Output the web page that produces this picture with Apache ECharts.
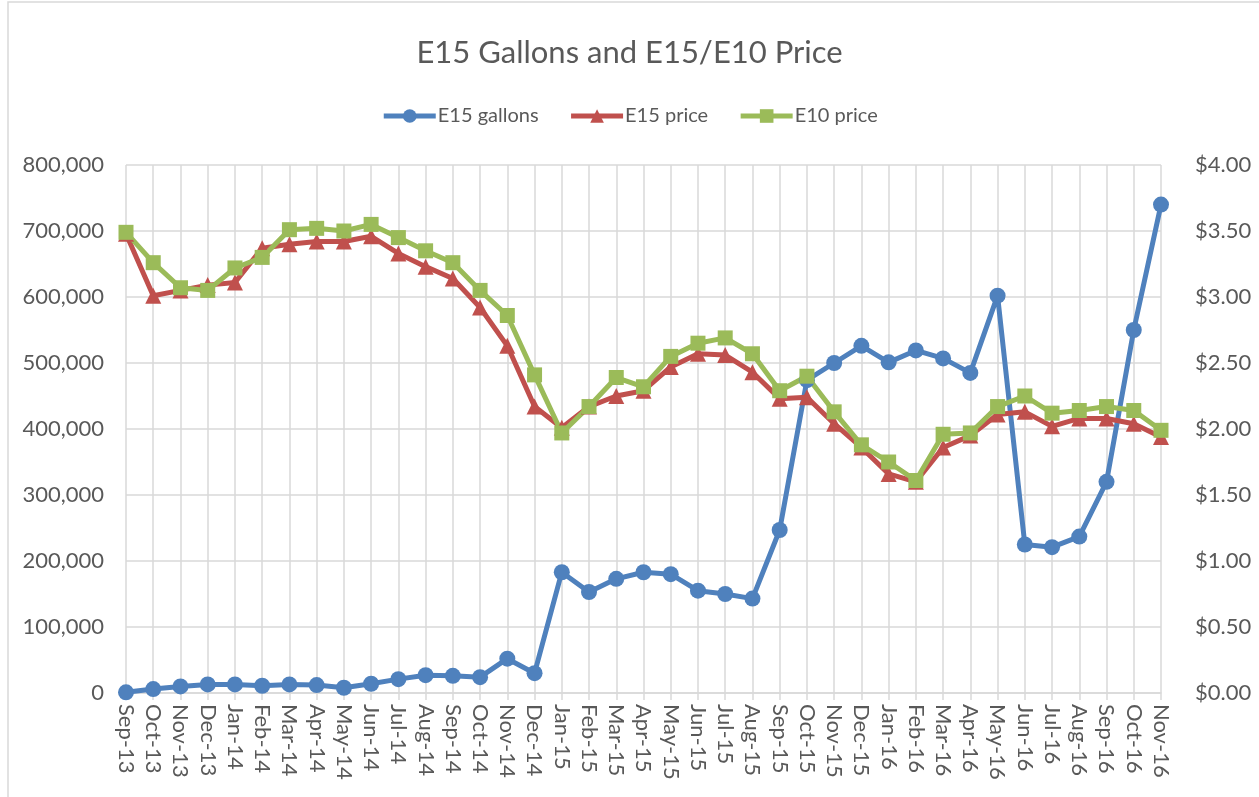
<!DOCTYPE html>
<html>
<head>
<meta charset="utf-8">
<script src="https://cdn.jsdelivr.net/npm/echarts@6/dist/echarts.min.js"></script>
<style>
html,body{margin:0;padding:0;background:#fff;}
#main{width:1259px;height:797px;}
</style>
</head>
<body>
<div id="main"></div>
<script>
var months = ['Sep-13','Oct-13','Nov-13','Dec-13','Jan-14','Feb-14','Mar-14','Apr-14','May-14','Jun-14','Jul-14','Aug-14',
    'Sep-14','Oct-14','Nov-14','Dec-14','Jan-15','Feb-15','Mar-15','Apr-15','May-15','Jun-15','Jul-15','Aug-15',
    'Sep-15','Oct-15','Nov-15','Dec-15','Jan-16','Feb-16','Mar-16','Apr-16','May-16','Jun-16','Jul-16','Aug-16',
    'Sep-16','Oct-16','Nov-16'];

var e15Gallons = [1000, 6000, 10000, 13000, 13000, 11000, 13000, 12000, 8000, 14000, 21000, 27000,
    26000, 24000, 52000, 30000, 183000, 153000, 173000, 183000, 180000, 155000, 150000, 143000,
    247000, 474000, 500000, 526000, 501000, 519000, 507000, 485000, 602000, 225000, 221000, 237000,
    320000, 550000, 740000];

var e15Price = [3.48, 3.01, 3.05, 3.09, 3.11, 3.37, 3.40, 3.42, 3.42, 3.46, 3.33, 3.23,
    3.14, 2.92, 2.63, 2.17, 2.01, 2.17, 2.25, 2.29, 2.47, 2.57, 2.56, 2.43,
    2.23, 2.24, 2.04, 1.86, 1.66, 1.60, 1.86, 1.95, 2.11, 2.13, 2.02, 2.08,
    2.08, 2.04, 1.94];

var e10Price = [3.49, 3.26, 3.07, 3.05, 3.22, 3.30, 3.51, 3.52, 3.50, 3.55, 3.45, 3.35,
    3.26, 3.05, 2.86, 2.41, 1.97, 2.17, 2.39, 2.32, 2.55, 2.65, 2.69, 2.57,
    2.29, 2.40, 2.13, 1.88, 1.75, 1.61, 1.96, 1.97, 2.17, 2.25, 2.12, 2.14,
    2.17, 2.14, 1.99];

var font = 'Lato, "Open Sans", sans-serif';
var textColor = '#595959';
var gridColor = '#D9D9D9';

var myChart = echarts.init(document.getElementById('main'));
var option = {
    backgroundColor: '#fff',
    animation: false,
    textStyle: {fontFamily: font},
    graphic: [{
        type: 'rect',
        shape: {x: 8, y: 2, width: 1262, height: 810},
        style: {fill: 'none', stroke: gridColor, lineWidth: 1.5},
        silent: true
    }],
    title: {
        text: 'E15 Gallons and E15/E10 Price',
        left: 'center',
        top: 32,
        textStyle: {fontFamily: font, fontSize: 31, fontWeight: 'normal', color: textColor}
    },
    legend: {
        top: 101,
        left: 'center',
        itemWidth: 52,
        itemHeight: 17,
        itemGap: 30,
        lineStyle: {width: 5},
        textStyle: {fontFamily: font, fontSize: 20, color: textColor, padding: [0, 0, 0, -3]},
        data: ['E15 gallons', 'E15 price', 'E10 price']
    },
    grid: {left: 126, right: 98, top: 165, bottom: 104},
    xAxis: {
        type: 'category',
        data: months,
        boundaryGap: false,
        axisLine: {lineStyle: {color: gridColor, width: 1.5}},
        axisTick: {show: true, length: 7, lineStyle: {color: gridColor, width: 1.5}},
        splitLine: {show: true, lineStyle: {color: gridColor, width: 1.5}},
        axisLabel: {rotate: -90, margin: 11, interval: 0, fontFamily: font, fontSize: 22, color: textColor}
    },
    yAxis: [{
        type: 'value',
        min: 0,
        max: 800000,
        interval: 100000,
        axisLine: {show: false},
        axisTick: {show: false},
        splitLine: {lineStyle: {color: gridColor, width: 1.5}},
        axisLabel: {
            margin: 22,
            fontFamily: font, fontSize: 22, color: textColor,
            formatter: function (v) { return v.toLocaleString('en-US'); }
        }
    }, {
        type: 'value',
        min: 0,
        max: 4,
        interval: 0.5,
        axisLine: {show: false},
        axisTick: {show: false},
        splitLine: {show: false},
        axisLabel: {
            margin: 34,
            fontFamily: font, fontSize: 22, color: textColor,
            formatter: function (v) { return '$' + v.toFixed(2); }
        }
    }],
    series: [{
        name: 'E15 gallons',
        type: 'line',
        yAxisIndex: 0,
        data: e15Gallons,
        symbol: 'circle',
        symbolSize: 16,
        lineStyle: {width: 5, color: '#4F81BD'},
        itemStyle: {color: '#4F81BD'}
    }, {
        name: 'E15 price',
        type: 'line',
        yAxisIndex: 1,
        data: e15Price,
        symbol: 'triangle',
        symbolSize: 16,
        lineStyle: {width: 5, color: '#C0504D'},
        itemStyle: {color: '#C0504D'}
    }, {
        name: 'E10 price',
        type: 'line',
        yAxisIndex: 1,
        data: e10Price,
        symbol: 'rect',
        symbolSize: 15,
        lineStyle: {width: 5, color: '#9BBB59'},
        itemStyle: {color: '#9BBB59'}
    }]
};
myChart.setOption(option);
</script>
</body>
</html>
